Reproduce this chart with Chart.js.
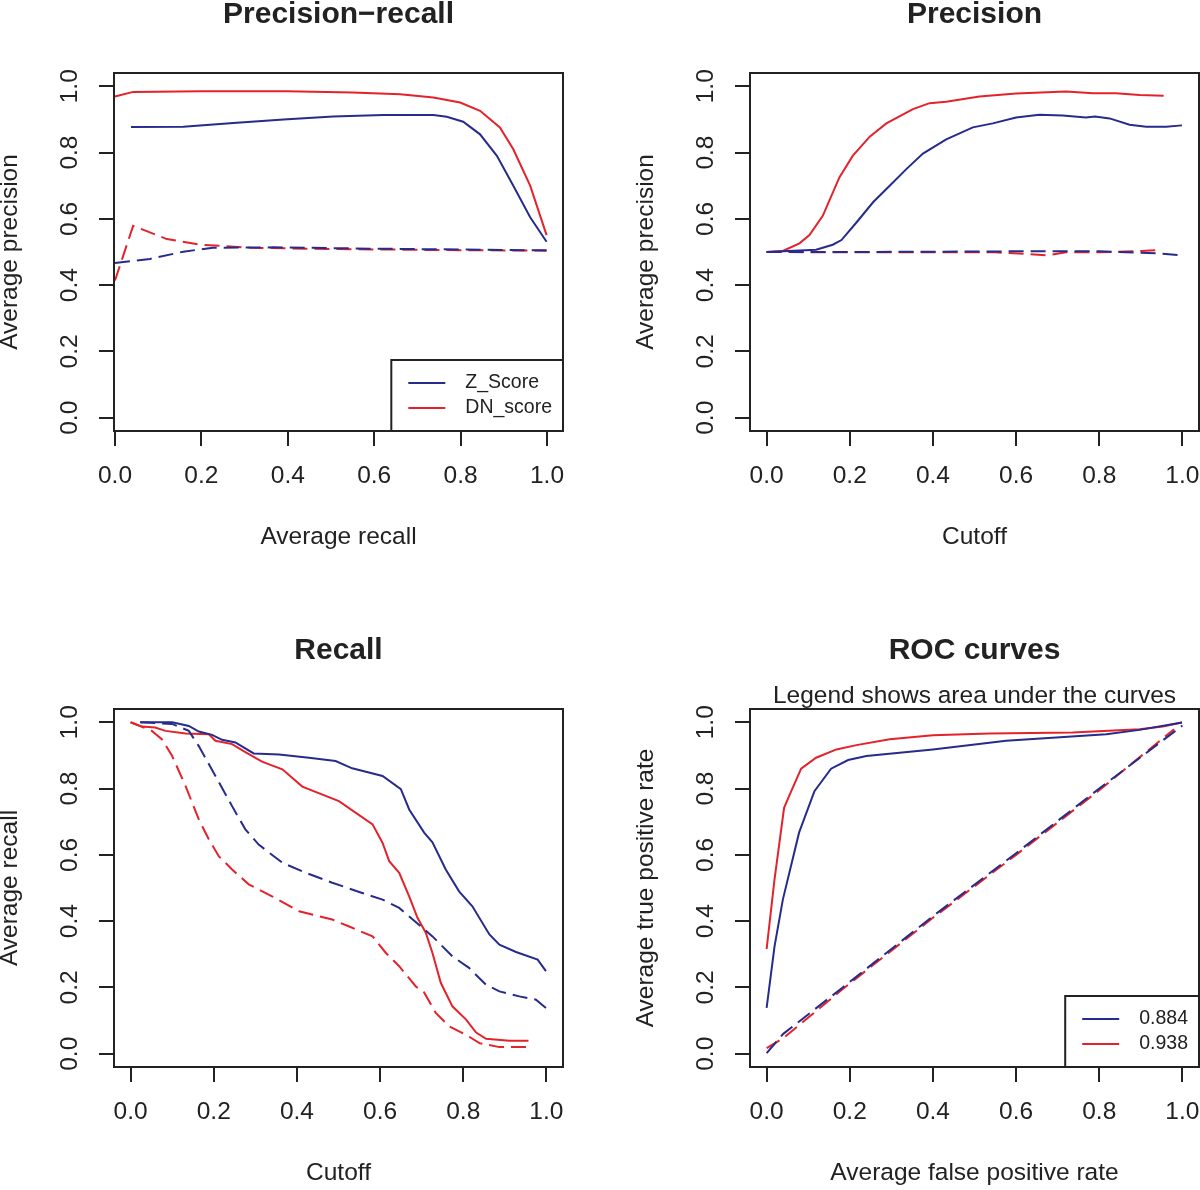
<!DOCTYPE html>
<html>
<head>
<meta charset="utf-8">
<title>Precision / recall / ROC</title>
<script src="https://cdn.jsdelivr.net/npm/chart.js@4.4.1/dist/chart.umd.min.js"></script>
<style>
  html, body { margin: 0; padding: 0; background: #fff; }
  body { width: 1200px; height: 1190px; position: relative; overflow: hidden; }
  canvas { position: absolute; }
</style>
</head>
<body>
<canvas id="c1" width="600" height="600" style="left:-36px;top:-37px"></canvas>
<canvas id="c2" width="600" height="600" style="left:600px;top:-37px"></canvas>
<canvas id="c3" width="600" height="600" style="left:-36px;top:599px"></canvas>
<canvas id="c4" width="600" height="600" style="left:600px;top:599px"></canvas>
<script>
// tick positions shared by every axis
const axisTicks = [0, 0.2, 0.4, 0.6, 0.8, 1.0];

// Precision-recall: x = average recall, y = average precision
const prZ_x = [0.037, 0.158, 0.274, 0.39, 0.505, 0.621, 0.737, 0.768, 0.806, 0.845, 0.884, 0.922, 0.961, 0.999];
const prZ_y = [0.877, 0.878, 0.889, 0.90, 0.909, 0.913, 0.913, 0.908, 0.893, 0.855, 0.79, 0.70, 0.605, 0.531];
const prDN_x = [0.0, 0.042, 0.2, 0.397, 0.55, 0.66, 0.737, 0.799, 0.845, 0.891, 0.922, 0.961, 0.999];
const prDN_y = [0.969, 0.983, 0.985, 0.985, 0.981, 0.976, 0.966, 0.951, 0.926, 0.876, 0.81, 0.70, 0.551];
const prZrand_x = [0.0, 0.081, 0.158, 0.227, 0.366, 0.6, 0.999];
const prZrand_y = [0.467, 0.479, 0.501, 0.513, 0.514, 0.51, 0.505];
const prDNrand_x = [0.0, 0.042, 0.12, 0.197, 0.313, 0.5, 0.75, 0.999];
const prDNrand_y = [0.414, 0.579, 0.539, 0.522, 0.513, 0.509, 0.506, 0.504];

// Precision vs cutoff
const pcZ_x = [0, 0.119, 0.159, 0.18, 0.216, 0.256, 0.296, 0.336, 0.376, 0.432, 0.496, 0.544, 0.6, 0.656, 0.712, 0.768, 0.79, 0.825, 0.873, 0.913, 0.961, 0.999];
const pcZ_y = [0.5, 0.507, 0.522, 0.536, 0.589, 0.65, 0.70, 0.75, 0.797, 0.84, 0.876, 0.888, 0.906, 0.914, 0.912, 0.906, 0.909, 0.903, 0.884, 0.878, 0.878, 0.882];
const pcDN_x = [0, 0.039, 0.079, 0.103, 0.135, 0.175, 0.207, 0.248, 0.288, 0.352, 0.392, 0.432, 0.512, 0.6, 0.72, 0.785, 0.84, 0.897, 0.955];
const pcDN_y = [0.5, 0.503, 0.526, 0.551, 0.609, 0.725, 0.79, 0.848, 0.888, 0.931, 0.949, 0.953, 0.969, 0.978, 0.984, 0.979, 0.979, 0.974, 0.971];
const pcZrand_x = [0, 0.2, 0.4, 0.6, 0.8, 0.9, 0.95, 0.999];
const pcZrand_y = [0.5, 0.5, 0.501, 0.502, 0.502, 0.498, 0.495, 0.49];
const pcDNrand_x = [0, 0.2, 0.4, 0.55, 0.625, 0.673, 0.72, 0.8, 0.9, 0.945];
const pcDNrand_y = [0.5, 0.499, 0.499, 0.499, 0.494, 0.49, 0.499, 0.499, 0.503, 0.506];

// Recall vs cutoff
const rcZ_x = [0.023, 0.1, 0.14, 0.164, 0.196, 0.22, 0.252, 0.296, 0.357, 0.429, 0.493, 0.533, 0.606, 0.65, 0.67, 0.706, 0.726, 0.758, 0.79, 0.822, 0.863, 0.887, 0.927, 0.979, 0.999];
const rcZ_y = [1.0, 1.0, 0.989, 0.972, 0.962, 0.947, 0.939, 0.906, 0.903, 0.893, 0.883, 0.861, 0.838, 0.798, 0.737, 0.667, 0.638, 0.556, 0.49, 0.445, 0.36, 0.329, 0.307, 0.284, 0.249];
const rcDN_x = [0.0, 0.027, 0.059, 0.084, 0.132, 0.188, 0.204, 0.244, 0.276, 0.316, 0.365, 0.413, 0.501, 0.582, 0.606, 0.622, 0.646, 0.67, 0.69, 0.71, 0.726, 0.746, 0.774, 0.807, 0.831, 0.855, 0.911, 0.957];
const rcDN_y = [1.0, 0.987, 0.984, 0.974, 0.966, 0.964, 0.944, 0.934, 0.91, 0.881, 0.858, 0.806, 0.762, 0.692, 0.636, 0.581, 0.546, 0.475, 0.41, 0.365, 0.304, 0.214, 0.143, 0.103, 0.064, 0.045, 0.039, 0.039];
const rcZrand_x = [0.023, 0.1, 0.14, 0.164, 0.204, 0.244, 0.276, 0.308, 0.365, 0.421, 0.485, 0.557, 0.606, 0.646, 0.702, 0.726, 0.774, 0.814, 0.855, 0.887, 0.935, 0.975, 0.999];
const rcZrand_y = [1.0, 0.995, 0.974, 0.928, 0.838, 0.747, 0.677, 0.631, 0.576, 0.546, 0.516, 0.485, 0.465, 0.44, 0.38, 0.354, 0.294, 0.259, 0.208, 0.188, 0.173, 0.163, 0.138];
const rcDNrand_x = [0.0, 0.051, 0.075, 0.1, 0.132, 0.164, 0.188, 0.212, 0.244, 0.284, 0.34, 0.405, 0.485, 0.533, 0.582, 0.614, 0.646, 0.686, 0.706, 0.734, 0.766, 0.807, 0.839, 0.887, 0.957];
const rcDNrand_y = [1.0, 0.974, 0.949, 0.898, 0.808, 0.707, 0.647, 0.596, 0.556, 0.511, 0.475, 0.43, 0.405, 0.38, 0.354, 0.304, 0.264, 0.203, 0.185, 0.123, 0.083, 0.057, 0.032, 0.02, 0.02];

// ROC: x = false positive rate, y = true positive rate
const rocZ_x = [0, 0.019, 0.039, 0.078, 0.115, 0.155, 0.196, 0.24, 0.4, 0.576, 0.817, 0.897, 0.999];
const rocZ_y = [0.138, 0.324, 0.465, 0.667, 0.792, 0.86, 0.886, 0.898, 0.918, 0.944, 0.964, 0.977, 0.999];
const rocDN_x = [0, 0.019, 0.042, 0.054, 0.083, 0.119, 0.168, 0.216, 0.296, 0.4, 0.536, 0.736, 0.897, 0.953, 0.999];
const rocDN_y = [0.316, 0.526, 0.742, 0.777, 0.86, 0.893, 0.918, 0.931, 0.949, 0.961, 0.966, 0.969, 0.979, 0.987, 0.999];
const rocZrand_x = [0, 0.04, 0.183, 0.4, 0.6, 0.8, 1.0];
const rocZrand_y = [0.002, 0.06, 0.2, 0.415, 0.605, 0.8, 0.99];
const rocDNrand_x = [0, 0.04, 0.183, 0.4, 0.6, 0.8, 0.98];
const rocDNrand_y = [0.017, 0.047, 0.195, 0.41, 0.6, 0.795, 0.979];

const methodLabels = ['Z_Score', 'DN_score'];
const aucLabels = ['0.884', '0.938'];

const BLUE = '#262b8c';
const RED = '#e3222b';
const INK = '#222222';
const FONT = '"Liberation Sans", Arial, Helvetica, sans-serif';

Chart.defaults.font.family = FONT;
Chart.defaults.color = INK;

function series(xs, ys, color, dashed) {
    return {
        data: xs.map((x, i) => ({ x: x, y: ys[i] })),
        borderColor: color,
        borderWidth: 2,
        borderDash: dashed ? [15, 7] : [],
        pointRadius: 0,
        fill: false,
        tension: 0
    };
}

// box, main title, subtitle and legend, R style
const decor = {
    id: 'decor',
    afterDraw(chart, args, opts) {
        const ctx = chart.ctx;
        const ca = chart.chartArea;
        ctx.save();
        ctx.strokeStyle = INK;
        ctx.lineWidth = 2;
        ctx.strokeRect(ca.left, ca.top, ca.right - ca.left, ca.bottom - ca.top);

        const cx = (ca.left + ca.right) / 2;
        ctx.fillStyle = INK;
        ctx.textAlign = 'center';
        ctx.textBaseline = 'middle';
        ctx.font = 'bold 30px ' + FONT;
        ctx.fillText(opts.title, cx, ca.top - 58);
        if (opts.subtitle) {
            ctx.font = '24.5px ' + FONT;
            ctx.fillText(opts.subtitle, cx, ca.top - 13);
        }

        if (opts.legend) {
            ctx.font = '19.5px ' + FONT;
            const textW = Math.max(...opts.legend.map(l => ctx.measureText(l).width));
            const boxW = 74 + textW + 11;
            const boxH = 71;
            const bx = ca.right - boxW;
            const by = ca.bottom - boxH;
            ctx.fillStyle = '#fff';
            ctx.fillRect(bx, by, boxW, boxH);
            ctx.strokeStyle = INK;
            ctx.strokeRect(bx, by, boxW, boxH);
            ctx.textAlign = 'left';
            opts.legend.forEach((lab, i) => {
                const yy = by + 23 + i * 25;
                ctx.strokeStyle = chart.data.datasets[opts.legendSets[i]].borderColor;
                ctx.beginPath();
                ctx.moveTo(bx + 17, yy);
                ctx.lineTo(bx + 54, yy);
                ctx.stroke();
                ctx.fillStyle = INK;
                ctx.fillText(lab, bx + 74, yy);
            });
        }
        ctx.restore();
    }
};

function makeChart(id, datasets, cfg) {
    return new Chart(document.getElementById(id), {
        type: 'line',
        data: { datasets: datasets },
        plugins: [decor],
        options: {
            responsive: false,
            animation: false,
            events: [],
            layout: { padding: { left: 32, right: 1, top: 110, bottom: 11 } },
            plugins: {
                legend: { display: false },
                tooltip: { enabled: false },
                decor: cfg.decor
            },
            scales: {
                x: {
                    type: 'linear',
                    min: cfg.xMin,
                    max: cfg.xMax,
                    afterBuildTicks: s => { s.ticks = axisTicks.map(v => ({ value: v })); },
                    afterFit: s => { s.height = 121; s.paddingLeft = 0; s.paddingRight = 0; },
                    ticks: { padding: 16, color: INK, font: { size: 24.5 }, autoSkip: false, maxRotation: 0,
                             callback: v => v.toFixed(1) },
                    grid: { drawOnChartArea: false, tickLength: 15, color: INK, lineWidth: 2 },
                    border: { color: INK, width: 2 },
                    title: { display: true, text: cfg.xTitle, color: INK, padding: 0,
                             font: { size: 24.5, lineHeight: 1.2 } }
                },
                y: {
                    type: 'linear',
                    min: -0.04,
                    max: 1.04,
                    afterBuildTicks: s => { s.ticks = axisTicks.map(v => ({ value: v })); },
                    afterFit: s => { s.width = 118; s.paddingTop = 0; s.paddingBottom = 0; },
                    ticks: { padding: 12, color: INK, font: { size: 24.5 }, autoSkip: false,
                             minRotation: 90, maxRotation: 90, crossAlign: 'center',
                             callback: v => v.toFixed(1) },
                    grid: { drawOnChartArea: false, tickLength: 15, color: INK, lineWidth: 2 },
                    border: { color: INK, width: 2 },
                    title: { display: true, text: cfg.yTitle, color: INK, padding: 0,
                             font: { size: 24.5, lineHeight: 1.2 } }
                }
            }
        }
    });
}

makeChart('c1', [
    series(prZrand_x, prZrand_y, BLUE, true),
    series(prDNrand_x, prDNrand_y, RED, true),
    series(prZ_x, prZ_y, BLUE, false),
    series(prDN_x, prDN_y, RED, false)
], {
    xMin: -0.0023, xMax: 1.037,
    xTitle: 'Average recall', yTitle: 'Average precision',
    decor: { title: 'Precision\u2212recall', legend: methodLabels, legendSets: [2, 3] }
});

makeChart('c2', [
    series(pcZrand_x, pcZrand_y, BLUE, true),
    series(pcDNrand_x, pcDNrand_y, RED, true),
    series(pcZ_x, pcZ_y, BLUE, false),
    series(pcDN_x, pcDN_y, RED, false)
], {
    xMin: -0.04, xMax: 1.04,
    xTitle: 'Cutoff', yTitle: 'Average precision',
    decor: { title: 'Precision' }
});

makeChart('c3', [
    series(rcZrand_x, rcZrand_y, BLUE, true),
    series(rcDNrand_x, rcDNrand_y, RED, true),
    series(rcZ_x, rcZ_y, BLUE, false),
    series(rcDN_x, rcDN_y, RED, false)
], {
    xMin: -0.04, xMax: 1.04,
    xTitle: 'Cutoff', yTitle: 'Average recall',
    decor: { title: 'Recall' }
});

makeChart('c4', [
    series(rocZrand_x, rocZrand_y, BLUE, true),
    series(rocDNrand_x, rocDNrand_y, RED, true),
    series(rocZ_x, rocZ_y, BLUE, false),
    series(rocDN_x, rocDN_y, RED, false)
], {
    xMin: -0.04, xMax: 1.04,
    xTitle: 'Average false positive rate', yTitle: 'Average true positive rate',
    decor: { title: 'ROC curves', subtitle: 'Legend shows area under the curves',
             legend: aucLabels, legendSets: [2, 3] }
});
</script>
</body>
</html>
